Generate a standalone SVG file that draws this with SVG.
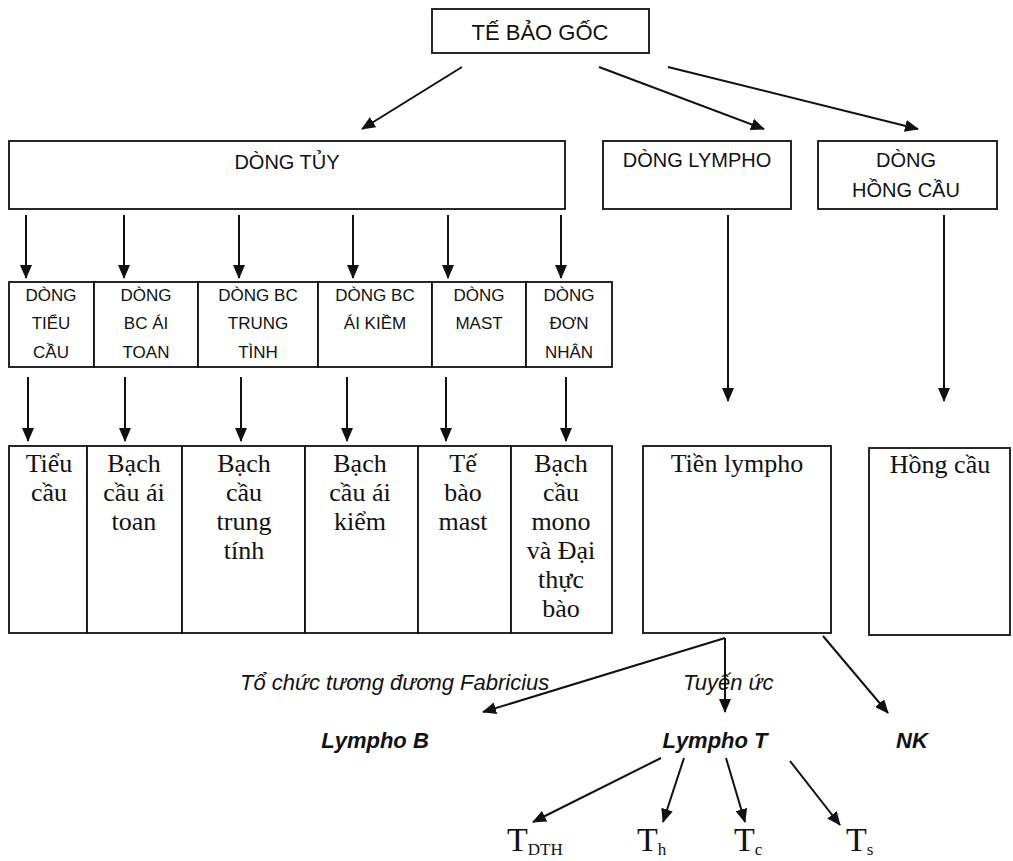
<svg xmlns="http://www.w3.org/2000/svg" width="1013" height="861" viewBox="0 0 1013 861">
<style>
.box{fill:#fff;stroke:#111;stroke-width:1.8}
.cap{font-family:"Liberation Sans",Arial,sans-serif;fill:#111;text-anchor:middle}
.big{font-size:20px}
.sm{font-size:17px}
.ser{font-family:"Liberation Serif","Times New Roman",serif;font-size:26px;fill:#111;text-anchor:middle}
.it{font-family:"Liberation Sans",Arial,sans-serif;font-style:italic;font-size:22px;fill:#111}
.bi{font-family:"Liberation Sans",Arial,sans-serif;font-style:italic;font-weight:bold;font-size:22px;fill:#111;text-anchor:middle}
.tl{font-family:"Liberation Serif","Times New Roman",serif;font-size:34px;fill:#111}
.conn line{stroke:#111;stroke-width:2;marker-end:url(#ah)}
</style>
<defs>
<marker id="ah" markerUnits="userSpaceOnUse" markerWidth="14" markerHeight="12" refX="13" refY="6" orient="auto">
<path d="M0,0 L14,6 L0,12 z" fill="#111"/>
</marker>
</defs>
<rect width="1013" height="861" fill="#fff"/>

<g id="te-bao-goc"><rect class="box" x="432" y="9" width="217" height="44"/><text class="cap" x="540" y="40" font-size="22">TẾ BẢO GỐC</text></g>

<g id="dong-tuy"><rect class="box" x="9" y="141" width="556" height="68"/><text class="cap big" x="287" y="169">DÒNG TỦY</text></g>
<g id="dong-lympho"><rect class="box" x="603" y="141" width="188" height="68"/><text class="cap big" x="697" y="167">DÒNG LYMPHO</text></g>
<g id="dong-hong-cau"><rect class="box" x="818" y="141" width="179" height="68"/><text class="cap big" x="906" y="167">DÒNG</text><text class="cap big" x="906" y="197">HỒNG CẦU</text></g>

<g id="dong-tieu-cau"><rect class="box" x="9" y="282" width="85" height="85"/><text class="cap sm" x="51" y="301">DÒNG</text><text class="cap sm" x="51" y="329">TIỂU</text><text class="cap sm" x="51" y="358">CẦU</text></g>
<g id="dong-bc-ai-toan"><rect class="box" x="94" y="282" width="104" height="85"/><text class="cap sm" x="146" y="301">DÒNG</text><text class="cap sm" x="146" y="329">BC ÁI</text><text class="cap sm" x="146" y="358">TOAN</text></g>
<g id="dong-bc-trung-tinh"><rect class="box" x="198" y="282" width="120" height="85"/><text class="cap sm" x="258" y="301">DÒNG BC</text><text class="cap sm" x="258" y="329">TRUNG</text><text class="cap sm" x="258" y="358">TÌNH</text></g>
<g id="dong-bc-ai-kiem"><rect class="box" x="318" y="282" width="114" height="85"/><text class="cap sm" x="375" y="301">DÒNG BC</text><text class="cap sm" x="375" y="329">ÁI KIỀM</text></g>
<g id="dong-mast"><rect class="box" x="432" y="282" width="94" height="85"/><text class="cap sm" x="479" y="301">DÒNG</text><text class="cap sm" x="479" y="329">MAST</text></g>
<g id="dong-don-nhan"><rect class="box" x="526" y="282" width="86" height="85"/><text class="cap sm" x="569" y="301">DÒNG</text><text class="cap sm" x="569" y="329">ĐƠN</text><text class="cap sm" x="569" y="358">NHÂN</text></g>

<g id="tieu-cau"><rect class="box" x="9" y="446" width="78" height="187"/><text class="ser" x="49" y="472">Tiểu</text><text class="ser" x="49" y="501">cầu</text></g>
<g id="bach-cau-ai-toan"><rect class="box" x="87" y="446" width="95" height="187"/><text class="ser" x="134" y="472">Bạch</text><text class="ser" x="134" y="501">cầu ái</text><text class="ser" x="134" y="530">toan</text></g>
<g id="bach-cau-trung-tinh"><rect class="box" x="182" y="446" width="123" height="187"/><text class="ser" x="244" y="472">Bạch</text><text class="ser" x="244" y="501">cầu</text><text class="ser" x="244" y="530">trung</text><text class="ser" x="244" y="559">tính</text></g>
<g id="bach-cau-ai-kiem"><rect class="box" x="305" y="446" width="113" height="187"/><text class="ser" x="360" y="472">Bạch</text><text class="ser" x="360" y="501">cầu ái</text><text class="ser" x="360" y="530">kiểm</text></g>
<g id="te-bao-mast"><rect class="box" x="418" y="446" width="93" height="187"/><text class="ser" x="463" y="472">Tế</text><text class="ser" x="463" y="501">bào</text><text class="ser" x="463" y="530">mast</text></g>
<g id="bach-cau-mono"><rect class="box" x="511" y="446" width="101" height="187"/><text class="ser" x="561" y="472">Bạch</text><text class="ser" x="561" y="501">cầu</text><text class="ser" x="561" y="530">mono</text><text class="ser" x="561" y="559">và Đại</text><text class="ser" x="561" y="588">thực</text><text class="ser" x="561" y="617">bào</text></g>

<g id="tien-lympho"><rect class="box" x="643" y="446" width="188" height="187"/><text class="ser" x="737" y="472">Tiền lympho</text></g>
<g id="hong-cau"><rect class="box" x="869" y="448" width="141" height="187"/><text class="ser" x="940" y="473">Hồng cầu</text></g>

<g id="labels">
<text class="it" x="240" y="690">Tổ chức tương đương Fabricius</text>
<text class="it" x="683" y="690">Tuyến ức</text>
</g>
<g id="lympho-b"><text class="bi" x="375" y="748">Lympho B</text></g>
<g id="lympho-t"><text class="bi" x="715" y="748">Lympho T</text></g>
<g id="nk"><text class="bi" x="912" y="748">NK</text></g>

<g id="t-dth"><text class="tl" x="507" y="851">T<tspan font-size="17" dy="4">DTH</tspan></text></g>
<g id="t-h"><text class="tl" x="637" y="851">T<tspan font-size="17" dy="4">h</tspan></text></g>
<g id="t-c"><text class="tl" x="734" y="851">T<tspan font-size="17" dy="4">c</tspan></text></g>
<g id="t-s"><text class="tl" x="846" y="851">T<tspan font-size="17" dy="4">s</tspan></text></g>

<g id="connectors" class="conn">
<line x1="462" y1="67" x2="362" y2="129"/>
<line x1="599" y1="67" x2="764" y2="129"/>
<line x1="668" y1="67" x2="918" y2="129"/>
<line x1="26" y1="215" x2="26" y2="278"/>
<line x1="124" y1="215" x2="124" y2="278"/>
<line x1="239" y1="215" x2="239" y2="278"/>
<line x1="353" y1="215" x2="353" y2="278"/>
<line x1="448" y1="215" x2="448" y2="278"/>
<line x1="561" y1="215" x2="561" y2="278"/>
<line x1="728" y1="215" x2="728" y2="401"/>
<line x1="944" y1="215" x2="944" y2="401"/>
<line x1="28" y1="377" x2="28" y2="441"/>
<line x1="125" y1="377" x2="125" y2="441"/>
<line x1="241" y1="377" x2="241" y2="441"/>
<line x1="347" y1="377" x2="347" y2="441"/>
<line x1="446" y1="377" x2="446" y2="441"/>
<line x1="566" y1="377" x2="566" y2="441"/>
<line x1="725" y1="638" x2="483" y2="712"/>
<line x1="725" y1="638" x2="725" y2="712"/>
<line x1="823" y1="636" x2="888" y2="713"/>
<line x1="661" y1="758" x2="533" y2="822"/>
<line x1="684" y1="758" x2="663" y2="822"/>
<line x1="726" y1="758" x2="745" y2="822"/>
<line x1="790" y1="761" x2="840" y2="825"/>
</g>
</svg>
